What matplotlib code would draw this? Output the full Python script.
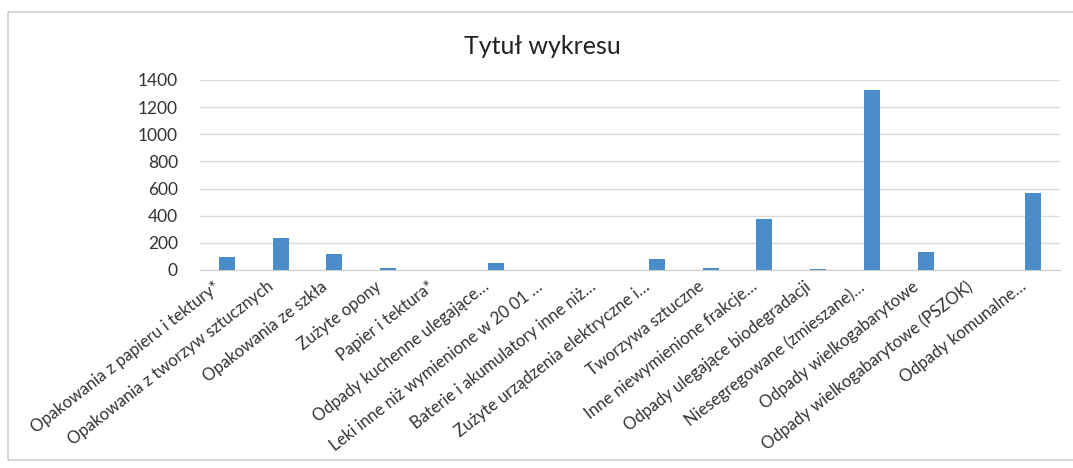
import matplotlib.pyplot as plt
from matplotlib.patches import Rectangle
from matplotlib.transforms import ScaledTranslation

# categories and values
categories = [
    'Opakowania z papieru i tektury*',
    'Opakowania z tworzyw sztucznych',
    'Opakowania ze szkła',
    'Zużyte opony',
    'Papier i tektura*',
    'Odpady kuchenne ulegające…',
    'Leki inne niż wymienione w 20 01 …',
    'Baterie i akumulatory inne niż…',
    'Zużyte urządzenia elektryczne i…',
    'Tworzywa sztuczne',
    'Inne niewymienione frakcje…',
    'Odpady ulegające biodegradacji',
    'Niesegregowane (zmieszane)…',
    'Odpady wielkogabarytowe',
    'Odpady wielkogabarytowe (PSZOK)',
    'Odpady komunalne…',
]
values = [94, 235, 115, 17, 0, 49, 0, 0, 80, 15, 373, 10, 1325, 130, 0, 565]
yticks = [0, 200, 400, 600, 800, 1000, 1200, 1400]

plt.rcParams['font.family'] = ['Lato', 'DejaVu Sans']

fig = plt.figure(figsize=(10.73, 4.68), dpi=100)
fig.patch.set_facecolor('white')

# chart frame
fig.patches.append(Rectangle((8 / 1073, 1 - 460 / 468), 1.1, (460 - 12) / 468,
                             transform=fig.transFigure, fill=False,
                             edgecolor='#d0d0d0', linewidth=1.2))

ax = fig.add_axes([200 / 1073, 1 - 270 / 468, 860 / 1073, 190 / 468])
x = range(len(categories))
ax.bar(x, values, width=0.3, color='#4a8dc9', zorder=3)

ax.set_xlim(-0.5, len(categories) - 0.5)
ax.set_ylim(0, 1400)
ax.set_yticks(yticks)
ax.set_yticklabels([str(v) for v in yticks], fontsize=12.5, color='#333333')
ax.set_xticks(list(x))
ax.set_xticklabels(categories, rotation=38, ha='right', rotation_mode='anchor',
                   fontsize=12, color='#333333')
ax.tick_params(axis='y', length=0, pad=16)
ax.tick_params(axis='x', length=0, pad=6)

# shift rotated labels a bit to the left, like Excel does
shift = ScaledTranslation(-10 / 72, 0, fig.dpi_scale_trans)
for lbl in ax.get_xticklabels():
    lbl.set_transform(lbl.get_transform() + shift)

ax.grid(axis='y', color='#dcdcdc', linewidth=1, zorder=0)
for s in ['top', 'right', 'left']:
    ax.spines[s].set_visible(False)
ax.spines['bottom'].set_color('#cfcfcf')

fig.text(542 / 1073, 1 - 47 / 468, 'Tytuł wykresu', ha='center', va='center',
         fontsize=18, color='#222222')

fig.savefig('out.png', dpi=100)
